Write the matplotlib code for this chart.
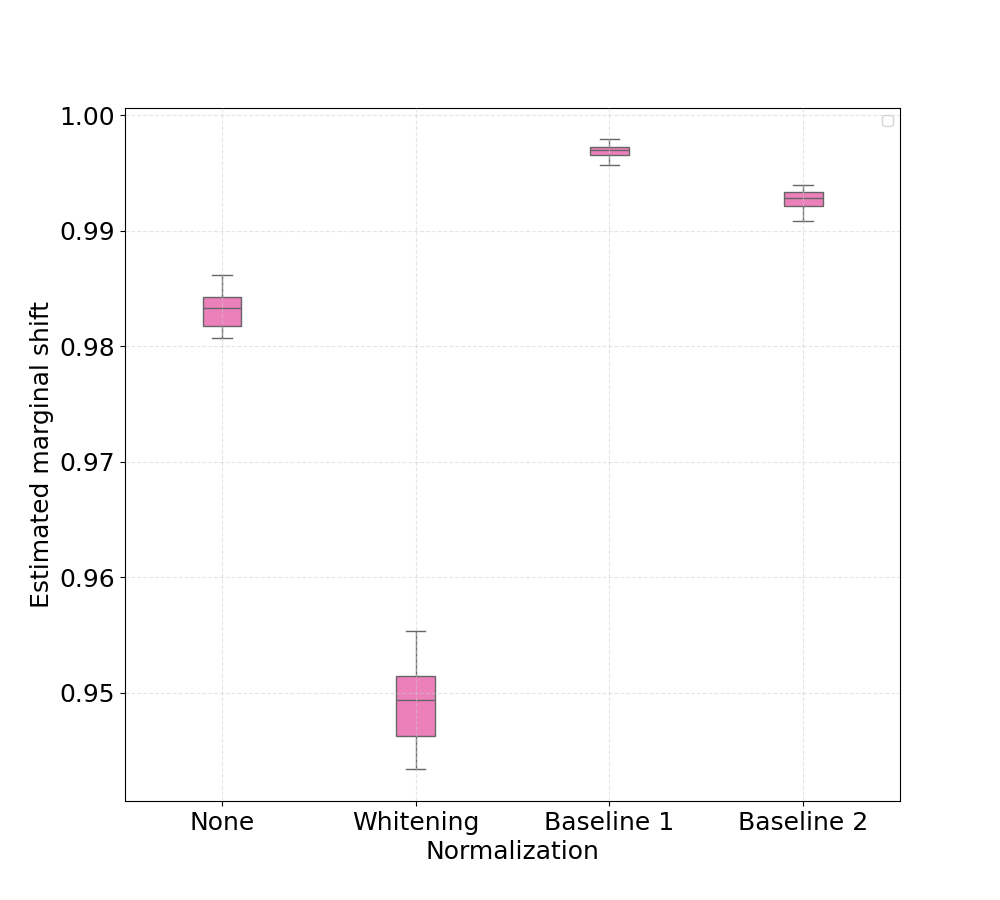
import matplotlib
matplotlib.use("Agg")
import matplotlib.pyplot as plt

categories = ["None", "Whitening", "Baseline 1", "Baseline 2"]
whisker_low = [0.98076, 0.94333, 0.99567, 0.99090]
q1 = [0.98180, 0.94627, 0.99662, 0.99220]
median = [0.98336, 0.94931, 0.99697, 0.99281]
q3 = [0.98423, 0.95147, 0.99731, 0.99333]
whisker_high = [0.98622, 0.95537, 0.99792, 0.99402]

stats = []
for i, c in enumerate(categories):
    stats.append(dict(label=c, whislo=whisker_low[i], q1=q1[i], med=median[i],
                      q3=q3[i], whishi=whisker_high[i], fliers=[]))

fig, ax = plt.subplots(figsize=(10, 9), dpi=100)
lc = "#666666"
ax.bxp(stats, positions=range(len(categories)), widths=0.2, patch_artist=True,
       showfliers=False,
       boxprops=dict(facecolor="#ec80ba", edgecolor=lc, linewidth=1.0),
       medianprops=dict(color=lc, linewidth=1.0),
       whiskerprops=dict(color=lc, linewidth=1.0),
       capprops=dict(color=lc, linewidth=1.0))
ax.set_xlim(-0.5, len(categories) - 0.5)
ax.set_axisbelow(False)
ax.grid(True, linestyle="--", color="#cccccc", alpha=0.5, linewidth=0.8)
ax.tick_params(labelsize=18)
ax.set_xlabel("Normalization", fontsize=18)
ax.set_ylabel("Estimated marginal shift", fontsize=18)
ax.set_yticks([0.95, 0.96, 0.97, 0.98, 0.99, 1.00])
ax.set_yticklabels(["0.95", "0.96", "0.97", "0.98", "0.99", "1.00"])
ax.legend(loc="upper right")
fig.savefig("out.png", dpi=100)
